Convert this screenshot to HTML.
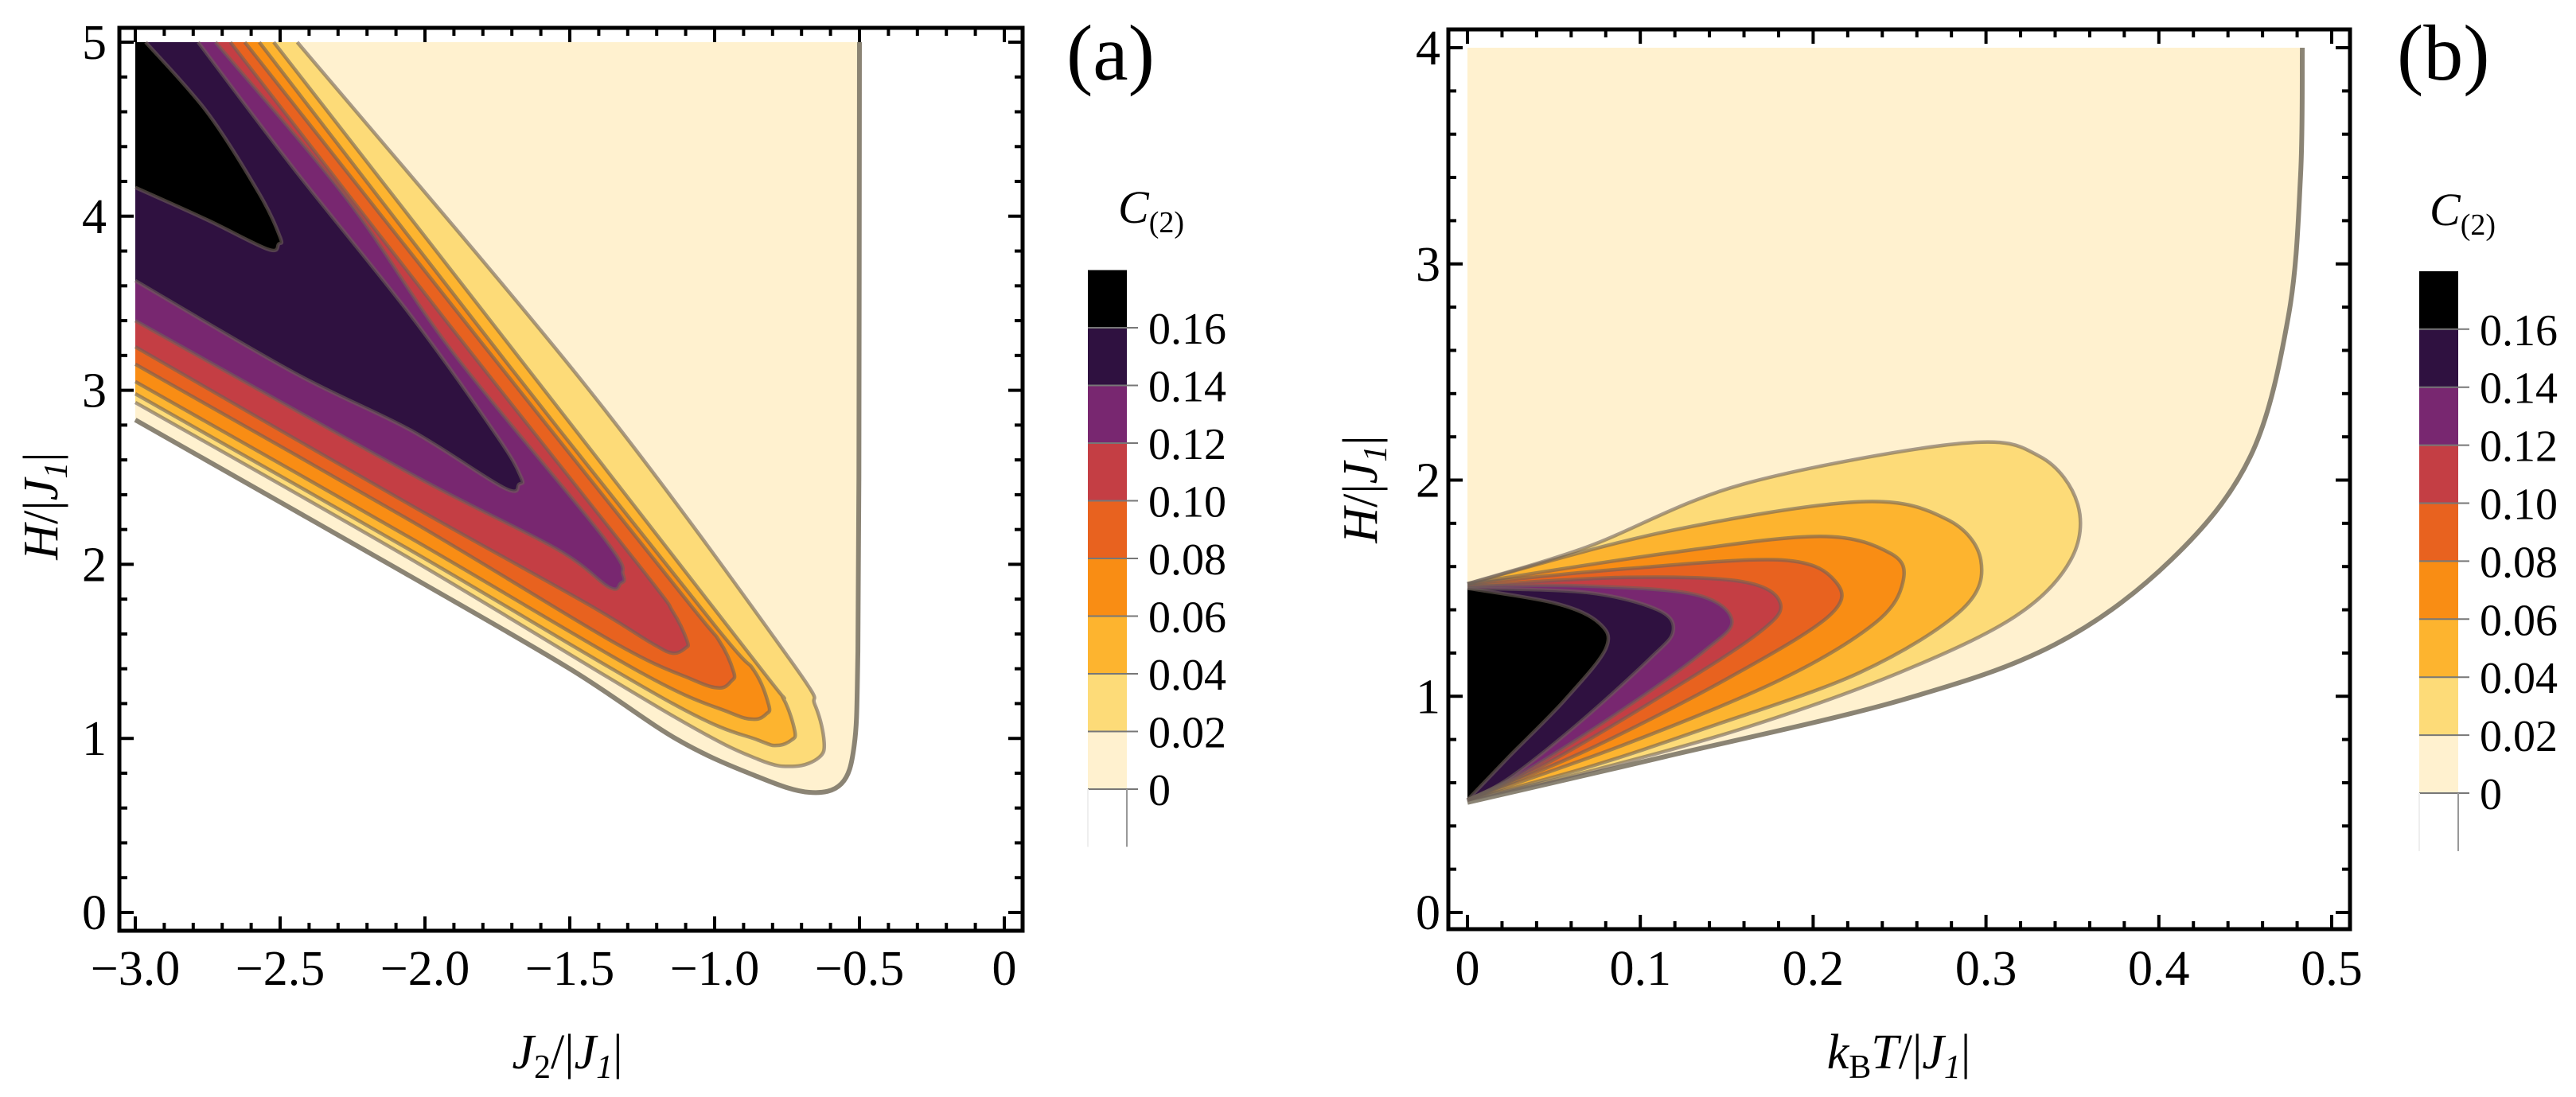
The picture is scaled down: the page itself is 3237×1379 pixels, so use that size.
<!DOCTYPE html>
<html><head><meta charset="utf-8"><style>
html,body{margin:0;padding:0;background:#fff;}
svg{display:block;font-family:"Liberation Serif",serif;}
</style></head><body>
<svg id="fig" xmlns="http://www.w3.org/2000/svg" width="3237" height="1379" viewBox="0 0 3237 1379">
<defs>
<clipPath id="clipA"><rect x="152" y="37" width="1131" height="1131"/></clipPath>
<clipPath id="clipB"><rect x="1822" y="39" width="1129" height="1127"/></clipPath>
</defs>
<g id="panelA"></g>
<g id="panelB"></g>
<text x="1340" y="100" font-size="100">(a)</text>
<text x="3012" y="100" font-size="100">(b)</text>
<text x="713" y="1343" font-size="62" text-anchor="middle"><tspan font-style="italic">J</tspan><tspan font-size="42" dy="12">2</tspan><tspan dy="-12">/|</tspan><tspan font-style="italic">J</tspan><tspan font-style="italic" font-size="42" dy="12">1</tspan><tspan dy="-12">|</tspan></text>
<text x="2386" y="1343" font-size="62" text-anchor="middle"><tspan font-style="italic">k</tspan><tspan font-size="42" dy="12">B</tspan><tspan font-style="italic" dy="-12">T</tspan><tspan>/|</tspan><tspan font-style="italic">J</tspan><tspan font-style="italic" font-size="42" dy="12">1</tspan><tspan dy="-12">|</tspan></text>
<text transform="translate(72,636) rotate(-90)" font-size="62" text-anchor="middle"><tspan font-style="italic">H</tspan><tspan>/|</tspan><tspan font-style="italic">J</tspan><tspan font-style="italic" font-size="42" dy="12">1</tspan><tspan dy="-12">|</tspan></text>
<text transform="translate(1730,615) rotate(-90)" font-size="62" text-anchor="middle"><tspan font-style="italic">H</tspan><tspan>/|</tspan><tspan font-style="italic">J</tspan><tspan font-style="italic" font-size="42" dy="12">1</tspan><tspan dy="-12">|</tspan></text>
<text x="1405" y="280" font-size="58"><tspan font-style="italic">C</tspan><tspan font-size="38" dy="12">(2)</tspan></text>
<text x="3053" y="283" font-size="58"><tspan font-style="italic">C</tspan><tspan font-size="38" dy="12">(2)</tspan></text>
</svg>
<script>
// ---- data ----
const levels = [0, 0.02, 0.04, 0.06, 0.08, 0.10, 0.12, 0.14, 0.16];
const levelLabels = ["0","0.02","0.04","0.06","0.08","0.10","0.12","0.14","0.16"];
const bandColors = ["#fff1cf","#fddb78","#fdb42f","#f98d14","#e8621f","#c43e44","#782770","#2f1140","#000000"];

// panel (a) contour lines in data units (J2/|J1|, H/|J1|)
const cA0  = [[-3,2.83],[-2.049,1.93],[-1.5,1.40],[-1.125,0.99],[-0.844,0.775],[-0.673,0.69],[-0.562,0.74],[-0.518,0.96],[-0.506,1.43],[-0.502,2.5],[-0.5,5]];
const cA02 = [[-3,2.93],[-2.049,2.03],[-1.145,1.13],[-0.85,0.88],[-0.723,0.84],[-0.64,0.89],[-0.622,0.98],[-0.653,1.19],[-0.743,1.46],[-1.447,3.03],[-2.441,5]];
const cA04 = [[-3,2.98],[-2.049,2.08],[-1.145,1.20],[-0.85,0.99],[-0.783,0.96],[-0.735,0.99],[-0.723,1.04],[-0.763,1.23],[-0.85,1.42],[-1.648,3.13],[-2.522,5]];
const cA06 = [[-3,3.05],[-2.049,2.15],[-1.246,1.37],[-0.95,1.15],[-0.864,1.11],[-0.822,1.14],[-0.813,1.19],[-0.864,1.39],[-1.0,1.65],[-1.728,3.18],[-2.572,5]];
const cA08 = [[-3,3.15],[-2.049,2.25],[-1.346,1.55],[-1.08,1.34],[-0.984,1.29],[-0.942,1.33],[-0.934,1.38],[-0.984,1.56],[-1.1,1.80],[-1.808,3.28],[-2.622,5]];
const cA10 = [[-3,3.25],[-2.049,2.34],[-1.447,1.78],[-1.22,1.55],[-1.145,1.49],[-1.10,1.52],[-1.095,1.56],[-1.145,1.73],[-1.25,1.97],[-1.909,3.36],[-2.672,5]];
const cA12 = [[-3,3.40],[-2.049,2.52],[-1.547,2.09],[-1.366,1.87],[-1.325,1.89],[-1.316,1.94],[-1.386,2.16],[-1.909,3.23],[-2.27,4.10],[-2.723,5]];
const cA14 = [[-3,3.63],[-2.451,3.10],[-2.049,2.77],[-1.728,2.44],[-1.675,2.46],[-1.668,2.50],[-1.748,2.73],[-2.049,3.43],[-2.451,4.27],[-2.783,5]];
const cA16 = [[-3,4.165],[-2.753,3.98],[-2.542,3.81],[-2.505,3.84],[-2.50,3.88],[-2.572,4.13],[-2.753,4.60],[-2.964,5]];

// panel (b) contour lines in data units (kBT/|J1|, H/|J1|)
const cB0  = [[0,0.509],[0.114,0.72],[0.25,0.98],[0.34,1.24],[0.407,1.63],[0.453,2.11],[0.475,2.76],[0.482,3.41],[0.483,4.0]];
const cB02 = [[0,1.52],[0.069,1.69],[0.159,1.98],[0.286,2.17],[0.331,2.11],[0.353,1.89],[0.349,1.63],[0.317,1.37],[0.25,1.11],[0.159,0.85],[0.069,0.65],[0,0.52]];
const cB04 = [[0,1.52],[0.114,1.76],[0.227,1.90],[0.277,1.82],[0.297,1.63],[0.286,1.40],[0.227,1.11],[0.137,0.85],[0.069,0.67],[0,0.52]];
const cB06 = [[0,1.52],[0.114,1.66],[0.204,1.74],[0.245,1.66],[0.252,1.53],[0.236,1.34],[0.182,1.08],[0.092,0.78],[0,0.52]];
const cB08 = [[0,1.52],[0.092,1.59],[0.182,1.63],[0.213,1.53],[0.209,1.37],[0.150,1.08],[0.069,0.75],[0,0.52]];
const cB10 = [[0,1.51],[0.092,1.55],[0.159,1.53],[0.181,1.43],[0.168,1.29],[0.114,1.01],[0.046,0.69],[0,0.52]];
const cB12 = [[0,1.51],[0.069,1.51],[0.132,1.47],[0.153,1.35],[0.137,1.21],[0.092,0.95],[0.033,0.65],[0,0.52]];
const cB14 = [[0,1.50],[0.069,1.48],[0.110,1.40],[0.119,1.30],[0.105,1.17],[0.065,0.88],[0.024,0.62],[0,0.52]];
const cB16 = [[0,1.50],[0.051,1.43],[0.076,1.34],[0.080,1.22],[0.056,0.98],[0.024,0.72],[0,0.52]];

const xTicksA = [-3,-2.5,-2,-1.5,-1,-0.5,0];
const xLabelsA = ["\u22123.0","\u22122.5","\u22122.0","\u22121.5","\u22121.0","\u22120.5","0"];
const yTicksA = [0,1,2,3,4,5];
const yLabelsA = ["0","1","2","3","4","5"];
const xTicksB = [0,0.1,0.2,0.3,0.4,0.5];
const xLabelsB = ["0","0.1","0.2","0.3","0.4","0.5"];
const yTicksB = [0,1,2,3,4];
const yLabelsB = ["0","1","2","3","4"];

// ---- rendering ----
const NS = "http://www.w3.org/2000/svg";
function mk(tag, parent, attrs){
  const e = document.createElementNS(NS, tag);
  for (const k in attrs) e.setAttribute(k, attrs[k]);
  parent.appendChild(e);
  return e;
}
function smooth(pts){
  let d = "M" + pts[0][0].toFixed(1) + "," + pts[0][1].toFixed(1);
  for (let i = 0; i < pts.length - 1; i++){
    const p0 = pts[i-1] || pts[i], p1 = pts[i], p2 = pts[i+1], p3 = pts[i+2] || pts[i+1];
    const c1 = [p1[0] + (p2[0]-p0[0])/6, p1[1] + (p2[1]-p0[1])/6];
    const c2 = [p2[0] - (p3[0]-p1[0])/6, p2[1] - (p3[1]-p1[1])/6];
    d += "C" + c1[0].toFixed(1) + "," + c1[1].toFixed(1) + " " + c2[0].toFixed(1) + "," + c2[1].toFixed(1) + " " + p2[0].toFixed(1) + "," + p2[1].toFixed(1);
  }
  return d;
}

function panel(cfg){
  const g = document.getElementById(cfg.id);
  const sx = v => cfg.x0 + (v - cfg.xmin) * cfg.xu;
  const sy = v => cfg.y0 - v * cfg.yu;
  const plot = mk("g", g, {"clip-path": "url(#" + cfg.clip + ")"});
  
  
  cfg.contours.forEach((c, i) => {
    const px = c.map(p => [sx(p[0]), sy(p[1])]);
    const d = smooth(px) + "L" + sx(cfg.corner[0]) + "," + sy(cfg.corner[1]) + "Z";
    const f = mk("path", plot, {d: d, fill: bandColors[i], stroke: "none"});
    
    
  });
  cfg.contours.forEach((c, i) => {
    const px = c.map(p => [sx(p[0]), sy(p[1])]);
    const l = mk("path", plot, {d: smooth(px), fill: "none",
      stroke: i === 0 ? "#857d6e" : "#6e6058", "stroke-opacity": i === 0 ? 0.95 : 0.6,
      "stroke-width": i === 0 ? 6 : 4.5, "stroke-linejoin": "round"});
    
    
  });
  const fr = cfg.frame;
  const box = mk("rect", g, {x: fr.l, y: fr.t, width: fr.r - fr.l, height: fr.b - fr.t, fill: "none", stroke: "#000", "stroke-width": 5});
  
  
  const tg = mk("g", g, {stroke: "#000", "stroke-width": 4});
  
  
  const nxm = Math.round((cfg.xmax - cfg.xmin) / cfg.xminor);
  for (let k = 0; k <= nxm; k++){
    const v = cfg.xmin + k * cfg.xminor;
    const major = Math.abs(v / cfg.xmajor - Math.round(v / cfg.xmajor)) < 1e-6;
    const len = major ? 18 : 10, x = sx(v);
    mk("line", tg, {x1: x, y1: fr.b, x2: x, y2: fr.b - len});
    mk("line", tg, {x1: x, y1: fr.t, x2: x, y2: fr.t + len});
  }
  const nym = Math.round(cfg.ymax / cfg.yminor);
  for (let k = 0; k <= nym; k++){
    const v = k * cfg.yminor;
    const major = Math.abs(v - Math.round(v)) < 1e-6;
    const len = major ? 18 : 10, y = sy(v);
    mk("line", tg, {x1: fr.l, y1: y, x2: fr.l + len, y2: y});
    mk("line", tg, {x1: fr.r, y1: y, x2: fr.r - len, y2: y});
  }
  cfg.xTicks.forEach((v, i) => {
    const t = mk("text", g, {x: sx(v), y: 1238, "font-size": 62, "text-anchor": "middle"});
    t.textContent = cfg.xLabels[i];
    
    
  });
  cfg.yTicks.forEach((v, i) => {
    const t = mk("text", g, {x: cfg.ylabX, y: sy(v) + 21, "font-size": 62, "text-anchor": "end"});
    t.textContent = cfg.yLabels[i];
    
    
  });
  const cb = mk("g", g, {});
  
  
  const step = cfg.cbStep, cx = cfg.cbX, cw = 49;
  const cy = v => cfg.cbZero - (v / 0.02) * step;
  levels.forEach((lv, i) => {
    const top = i === levels.length - 1 ? cy(lv) - step : cy(levels[i+1]);
    const r = mk("rect", cb, {x: cx, y: top, width: cw, height: cy(lv) - top + 0.5, fill: bandColors[i]});
    
    
    mk("line", cb, {x1: cx, y1: cy(lv), x2: cx + cw + 14, y2: cy(lv), stroke: "#777", "stroke-width": 2});
    const t = mk("text", cb, {x: cx + 76, y: cy(lv) + 20, "font-size": 56});
    t.textContent = levelLabels[i];
    
    
  });
  mk("line", cb, {x1: cx + cw, y1: cy(0), x2: cx + cw, y2: cy(0) + step, stroke: "#999", "stroke-width": 2});
  mk("line", cb, {x1: cx, y1: cy(0), x2: cx, y2: cy(0) + step, stroke: "#eee", "stroke-width": 2});
}

panel({id: "panelA", clip: "clipA", x0: 170, xmin: -3, xmax: 0, xu: 364, y0: 1147, yu: 218.8, ymax: 5,
  xmajor: 0.5, xminor: 0.1, yminor: 0.2, frame: {l: 150, t: 35, r: 1285, b: 1170},
  contours: [cA0, cA02, cA04, cA06, cA08, cA10, cA12, cA14, cA16], corner: [-3, 5],
  xTicks: xTicksA, xLabels: xLabelsA, yTicks: yTicksA, yLabels: yLabelsA, ylabX: 134,
  cbX: 1367, cbZero: 992, cbStep: 72.5});

panel({id: "panelB", clip: "clipB", x0: 1844, xmin: 0, xmax: 0.5, xu: 2172, y0: 1147, yu: 271.75, ymax: 4,
  xmajor: 0.1, xminor: 0.02, yminor: 0.2, frame: {l: 1820, t: 37, r: 2953, b: 1168},
  contours: [cB0, cB02, cB04, cB06, cB08, cB10, cB12, cB14, cB16], corner: [0, 4],
  xTicks: xTicksB, xLabels: xLabelsB, yTicks: yTicksB, yLabels: yLabelsB, ylabX: 1810,
  cbX: 3040, cbZero: 997, cbStep: 72.9});
</script>
</body></html>
